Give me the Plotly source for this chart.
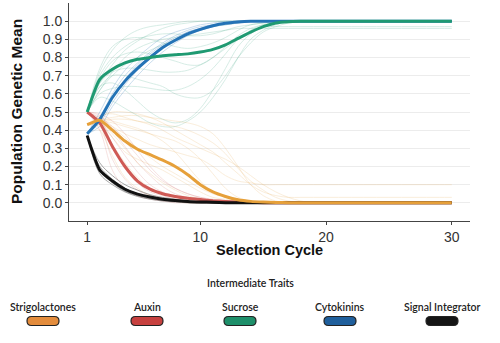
import plotly.graph_objects as go

cycles = list(range(1, 31))

# ---- mean trajectories ----
strigolactones_mean = [0.43, 0.455, 0.40, 0.34, 0.295, 0.265, 0.235, 0.20, 0.155, 0.10,
                       0.06, 0.035, 0.017, 0.008, 0.004, 0.002, 0.001, 0.001, 0.001, 0.001,
                       0.001, 0.001, 0.001, 0.001, 0.001, 0.001, 0.001, 0.001, 0.001, 0.001]
auxin_mean = [0.50, 0.44, 0.31, 0.20, 0.12, 0.075, 0.05, 0.035, 0.025, 0.018,
              0.012, 0.008, 0.004, 0.002, 0.001, 0.0, 0.0, 0.0, 0.0, 0.0,
              0.0, 0.0, 0.0, 0.0, 0.0, 0.0, 0.0, 0.0, 0.0, 0.0]
sucrose_mean = [0.50, 0.68, 0.735, 0.77, 0.79, 0.80, 0.81, 0.815, 0.82, 0.83,
                0.845, 0.87, 0.905, 0.94, 0.97, 0.99, 0.997, 0.999, 1.0, 1.0,
                1.0, 1.0, 1.0, 1.0, 1.0, 1.0, 1.0, 1.0, 1.0, 1.0]
cytokinins_mean = [0.38, 0.46, 0.58, 0.67, 0.74, 0.80, 0.855, 0.895, 0.93, 0.955,
                   0.975, 0.988, 0.995, 0.999, 1.0, 1.0, 1.0, 1.0, 1.0, 1.0,
                   1.0, 1.0, 1.0, 1.0, 1.0, 1.0, 1.0, 1.0, 1.0, 1.0]
integrator_mean = [0.37, 0.18, 0.12, 0.075, 0.048, 0.032, 0.02, 0.013, 0.008, 0.005,
                   0.003, 0.001, 0.0, 0.0, 0.0, 0.0, 0.0, 0.0, 0.0, 0.0,
                   0.0, 0.0, 0.0, 0.0, 0.0, 0.0, 0.0, 0.0, 0.0, 0.0]

# ---- individual replicate trajectories (read approximately) ----
strigolactones_reps = [
    [0.43, 0.45, 0.44, 0.42, 0.40, 0.38, 0.36, 0.34, 0.30, 0.24, 0.16, 0.08, 0.03, 0.01, 0.0,
     0.0, 0.0, 0.0, 0.0, 0.0, 0.0, 0.0, 0.0, 0.0, 0.0, 0.0, 0.0, 0.0, 0.0, 0.0],
    [0.43, 0.42, 0.32, 0.22, 0.14, 0.08, 0.05, 0.03, 0.02, 0.01, 0.0, 0.0, 0.0, 0.0, 0.0,
     0.0, 0.0, 0.0, 0.0, 0.0, 0.0, 0.0, 0.0, 0.0, 0.0, 0.0, 0.0, 0.0, 0.0, 0.0],
    [0.43, 0.46, 0.47, 0.48, 0.48, 0.47, 0.46, 0.45, 0.44, 0.42, 0.38, 0.30, 0.20, 0.10, 0.04,
     0.01, 0.0, 0.0, 0.0, 0.0, 0.0, 0.0, 0.0, 0.0, 0.0, 0.0, 0.0, 0.0, 0.0, 0.0],
    [0.43, 0.44, 0.38, 0.30, 0.22, 0.16, 0.11, 0.07, 0.04, 0.02, 0.01, 0.0, 0.0, 0.0, 0.0,
     0.0, 0.0, 0.0, 0.0, 0.0, 0.0, 0.0, 0.0, 0.0, 0.0, 0.0, 0.0, 0.0, 0.0, 0.0],
    [0.43, 0.40, 0.26, 0.14, 0.08, 0.04, 0.02, 0.01, 0.0, 0.0, 0.0, 0.0, 0.0, 0.0, 0.0,
     0.0, 0.0, 0.0, 0.0, 0.0, 0.0, 0.0, 0.0, 0.0, 0.0, 0.0, 0.0, 0.0, 0.0, 0.0],
    [0.43, 0.46, 0.45, 0.43, 0.41, 0.38, 0.34, 0.28, 0.20, 0.12, 0.06, 0.03, 0.01, 0.0, 0.0,
     0.0, 0.0, 0.0, 0.0, 0.0, 0.0, 0.0, 0.0, 0.0, 0.0, 0.0, 0.0, 0.0, 0.0, 0.0],
    [0.43, 0.45, 0.42, 0.38, 0.35, 0.32, 0.30, 0.28, 0.26, 0.24, 0.20, 0.15, 0.12, 0.11, 0.10,
     0.10, 0.10, 0.10, 0.10, 0.10, 0.10, 0.10, 0.10, 0.10, 0.10, 0.10, 0.10, 0.10, 0.10, 0.10],
    [0.43, 0.47, 0.50, 0.50, 0.49, 0.47, 0.44, 0.40, 0.36, 0.32, 0.28, 0.22, 0.16, 0.10, 0.06,
     0.04, 0.03, 0.03, 0.03, 0.03, 0.03, 0.03, 0.03, 0.03, 0.03, 0.03, 0.03, 0.03, 0.03, 0.03],
    [0.43, 0.44, 0.41, 0.36, 0.30, 0.25, 0.20, 0.16, 0.12, 0.08, 0.05, 0.03, 0.02, 0.01, 0.0,
     0.0, 0.0, 0.0, 0.0, 0.0, 0.0, 0.0, 0.0, 0.0, 0.0, 0.0, 0.0, 0.0, 0.0, 0.0],
    [0.43, 0.48, 0.49, 0.47, 0.45, 0.44, 0.43, 0.42, 0.40, 0.37, 0.33, 0.27, 0.19, 0.12, 0.07,
     0.03, 0.01, 0.0, 0.0, 0.0, 0.0, 0.0, 0.0, 0.0, 0.0, 0.0, 0.0, 0.0, 0.0, 0.0],
    [0.43, 0.45, 0.46, 0.46, 0.45, 0.43, 0.40, 0.36, 0.33, 0.30, 0.27, 0.24, 0.20, 0.15, 0.10,
     0.06, 0.03, 0.01, 0.0, 0.0, 0.0, 0.0, 0.0, 0.0, 0.0, 0.0, 0.0, 0.0, 0.0, 0.0],
    [0.43, 0.43, 0.36, 0.28, 0.24, 0.21, 0.18, 0.14, 0.10, 0.06, 0.03, 0.02, 0.01, 0.0, 0.0,
     0.0, 0.0, 0.0, 0.0, 0.0, 0.0, 0.0, 0.0, 0.0, 0.0, 0.0, 0.0, 0.0, 0.0, 0.0],
]
auxin_reps = [
    [0.50, 0.40, 0.18, 0.08, 0.04, 0.02, 0.01, 0.0, 0.0, 0.0, 0.0, 0.0, 0.0, 0.0, 0.0,
     0.0, 0.0, 0.0, 0.0, 0.0, 0.0, 0.0, 0.0, 0.0, 0.0, 0.0, 0.0, 0.0, 0.0, 0.0],
    [0.50, 0.48, 0.40, 0.31, 0.22, 0.15, 0.09, 0.05, 0.03, 0.02, 0.01, 0.0, 0.0, 0.0, 0.0,
     0.0, 0.0, 0.0, 0.0, 0.0, 0.0, 0.0, 0.0, 0.0, 0.0, 0.0, 0.0, 0.0, 0.0, 0.0],
    [0.50, 0.46, 0.32, 0.19, 0.11, 0.06, 0.04, 0.02, 0.01, 0.0, 0.0, 0.0, 0.0, 0.0, 0.0,
     0.0, 0.0, 0.0, 0.0, 0.0, 0.0, 0.0, 0.0, 0.0, 0.0, 0.0, 0.0, 0.0, 0.0, 0.0],
    [0.50, 0.43, 0.24, 0.13, 0.07, 0.04, 0.025, 0.015, 0.01, 0.005, 0.0, 0.0, 0.0, 0.0, 0.0,
     0.0, 0.0, 0.0, 0.0, 0.0, 0.0, 0.0, 0.0, 0.0, 0.0, 0.0, 0.0, 0.0, 0.0, 0.0],
    [0.50, 0.49, 0.45, 0.38, 0.29, 0.20, 0.13, 0.08, 0.05, 0.03, 0.02, 0.01, 0.0, 0.0, 0.0,
     0.0, 0.0, 0.0, 0.0, 0.0, 0.0, 0.0, 0.0, 0.0, 0.0, 0.0, 0.0, 0.0, 0.0, 0.0],
    [0.50, 0.45, 0.36, 0.26, 0.17, 0.10, 0.06, 0.04, 0.02, 0.01, 0.0, 0.0, 0.0, 0.0, 0.0,
     0.0, 0.0, 0.0, 0.0, 0.0, 0.0, 0.0, 0.0, 0.0, 0.0, 0.0, 0.0, 0.0, 0.0, 0.0],
    [0.50, 0.47, 0.42, 0.34, 0.26, 0.18, 0.12, 0.08, 0.05, 0.03, 0.015, 0.005, 0.0, 0.0, 0.0,
     0.0, 0.0, 0.0, 0.0, 0.0, 0.0, 0.0, 0.0, 0.0, 0.0, 0.0, 0.0, 0.0, 0.0, 0.0],
]
sucrose_reps = [
    [0.50, 0.72, 0.84, 0.91, 0.95, 0.97, 0.98, 0.99, 1.0, 1.0, 1.0, 1.0, 1.0, 1.0, 1.0,
     1.0, 1.0, 1.0, 1.0, 1.0, 1.0, 1.0, 1.0, 1.0, 1.0, 1.0, 1.0, 1.0, 1.0, 1.0],
    [0.50, 0.66, 0.76, 0.84, 0.89, 0.93, 0.96, 0.98, 0.99, 1.0, 1.0, 1.0, 1.0, 1.0, 1.0,
     1.0, 1.0, 1.0, 1.0, 1.0, 1.0, 1.0, 1.0, 1.0, 1.0, 1.0, 1.0, 1.0, 1.0, 1.0],
    [0.50, 0.62, 0.70, 0.76, 0.80, 0.84, 0.87, 0.90, 0.93, 0.95, 0.97, 0.98, 0.99, 1.0, 1.0,
     1.0, 1.0, 1.0, 1.0, 1.0, 1.0, 1.0, 1.0, 1.0, 1.0, 1.0, 1.0, 1.0, 1.0, 1.0],
    [0.50, 0.60, 0.63, 0.64, 0.64, 0.63, 0.62, 0.62, 0.64, 0.68, 0.74, 0.82, 0.90, 0.95, 0.98,
     0.99, 1.0, 1.0, 1.0, 1.0, 1.0, 1.0, 1.0, 1.0, 1.0, 1.0, 1.0, 1.0, 1.0, 1.0],
    [0.50, 0.68, 0.78, 0.82, 0.83, 0.82, 0.80, 0.78, 0.76, 0.76, 0.80, 0.86, 0.92, 0.96, 0.98,
     0.99, 1.0, 1.0, 1.0, 1.0, 1.0, 1.0, 1.0, 1.0, 1.0, 1.0, 1.0, 1.0, 1.0, 1.0],
    [0.50, 0.64, 0.66, 0.62, 0.56, 0.50, 0.46, 0.44, 0.46, 0.52, 0.62, 0.74, 0.86, 0.93, 0.97,
     0.99, 1.0, 1.0, 1.0, 1.0, 1.0, 1.0, 1.0, 1.0, 1.0, 1.0, 1.0, 1.0, 1.0, 1.0],
    [0.50, 0.70, 0.80, 0.86, 0.90, 0.92, 0.93, 0.93, 0.92, 0.92, 0.93, 0.95, 0.97, 0.98, 0.99,
     1.0, 1.0, 1.0, 1.0, 1.0, 1.0, 1.0, 1.0, 1.0, 1.0, 1.0, 1.0, 1.0, 1.0, 1.0],
    [0.50, 0.62, 0.72, 0.80, 0.85, 0.88, 0.90, 0.91, 0.92, 0.93, 0.94, 0.95, 0.96, 0.96, 0.96,
     0.96, 0.96, 0.96, 0.96, 0.96, 0.96, 0.96, 0.96, 0.96, 0.96, 0.96, 0.96, 0.96, 0.96, 0.96],
    [0.50, 0.58, 0.56, 0.52, 0.48, 0.44, 0.42, 0.42, 0.45, 0.50, 0.58, 0.68, 0.80, 0.90, 0.95,
     0.98, 1.0, 1.0, 1.0, 1.0, 1.0, 1.0, 1.0, 1.0, 1.0, 1.0, 1.0, 1.0, 1.0, 1.0],
    [0.50, 0.66, 0.72, 0.74, 0.74, 0.73, 0.72, 0.72, 0.73, 0.76, 0.80, 0.85, 0.90, 0.94, 0.97,
     0.97, 0.97, 0.97, 0.97, 0.97, 0.97, 0.97, 0.97, 0.97, 0.97, 0.97, 0.97, 0.97, 0.97, 0.97],
    [0.50, 0.74, 0.86, 0.90, 0.91, 0.90, 0.88, 0.86, 0.85, 0.86, 0.88, 0.91, 0.95, 0.98, 0.99,
     1.0, 1.0, 1.0, 1.0, 1.0, 1.0, 1.0, 1.0, 1.0, 1.0, 1.0, 1.0, 1.0, 1.0, 1.0],
    [0.50, 0.64, 0.70, 0.70, 0.68, 0.66, 0.64, 0.60, 0.58, 0.58, 0.62, 0.70, 0.80, 0.88, 0.94,
     0.97, 0.99, 1.0, 1.0, 1.0, 1.0, 1.0, 1.0, 1.0, 1.0, 1.0, 1.0, 1.0, 1.0, 1.0],
]
cytokinins_reps = [
    [0.38, 0.50, 0.63, 0.73, 0.80, 0.86, 0.91, 0.94, 0.96, 0.98, 0.99, 1.0, 1.0, 1.0, 1.0,
     1.0, 1.0, 1.0, 1.0, 1.0, 1.0, 1.0, 1.0, 1.0, 1.0, 1.0, 1.0, 1.0, 1.0, 1.0],
    [0.38, 0.42, 0.53, 0.62, 0.70, 0.77, 0.83, 0.88, 0.92, 0.95, 0.97, 0.98, 0.99, 1.0, 1.0,
     1.0, 1.0, 1.0, 1.0, 1.0, 1.0, 1.0, 1.0, 1.0, 1.0, 1.0, 1.0, 1.0, 1.0, 1.0],
    [0.38, 0.47, 0.60, 0.70, 0.77, 0.83, 0.88, 0.92, 0.95, 0.97, 0.98, 0.99, 1.0, 1.0, 1.0,
     1.0, 1.0, 1.0, 1.0, 1.0, 1.0, 1.0, 1.0, 1.0, 1.0, 1.0, 1.0, 1.0, 1.0, 1.0],
    [0.38, 0.44, 0.55, 0.65, 0.73, 0.80, 0.86, 0.90, 0.94, 0.96, 0.98, 0.99, 1.0, 1.0, 1.0,
     1.0, 1.0, 1.0, 1.0, 1.0, 1.0, 1.0, 1.0, 1.0, 1.0, 1.0, 1.0, 1.0, 1.0, 1.0],
    [0.38, 0.45, 0.58, 0.68, 0.76, 0.82, 0.87, 0.91, 0.94, 0.96, 0.975, 0.99, 1.0, 1.0, 1.0,
     1.0, 1.0, 1.0, 1.0, 1.0, 1.0, 1.0, 1.0, 1.0, 1.0, 1.0, 1.0, 1.0, 1.0, 1.0],
]
integrator_reps = [
    [0.37, 0.20, 0.13, 0.08, 0.05, 0.03, 0.02, 0.01, 0.005, 0.0, 0.0, 0.0, 0.0, 0.0, 0.0,
     0.0, 0.0, 0.0, 0.0, 0.0, 0.0, 0.0, 0.0, 0.0, 0.0, 0.0, 0.0, 0.0, 0.0, 0.0],
    [0.37, 0.16, 0.10, 0.06, 0.035, 0.02, 0.01, 0.005, 0.0, 0.0, 0.0, 0.0, 0.0, 0.0, 0.0,
     0.0, 0.0, 0.0, 0.0, 0.0, 0.0, 0.0, 0.0, 0.0, 0.0, 0.0, 0.0, 0.0, 0.0, 0.0],
    [0.37, 0.22, 0.15, 0.10, 0.07, 0.045, 0.03, 0.02, 0.01, 0.005, 0.0, 0.0, 0.0, 0.0, 0.0,
     0.0, 0.0, 0.0, 0.0, 0.0, 0.0, 0.0, 0.0, 0.0, 0.0, 0.0, 0.0, 0.0, 0.0, 0.0],
    [0.37, 0.18, 0.11, 0.065, 0.04, 0.025, 0.015, 0.01, 0.005, 0.0, 0.0, 0.0, 0.0, 0.0, 0.0,
     0.0, 0.0, 0.0, 0.0, 0.0, 0.0, 0.0, 0.0, 0.0, 0.0, 0.0, 0.0, 0.0, 0.0, 0.0],
]

trait_names = ["Strigolactones", "Auxin", "Sucrose", "Cytokinins", "Signal Integrator"]
line_colors = ["#E6A03A", "#CF5A55", "#1F9A72", "#2473B6", "#111111"]
swatch_colors = ["#E38C3C", "#C7413F", "#1E8F6A", "#1F5F9C", "#151515"]
rep_opacity = [0.22, 0.22, 0.22, 0.3, 0.45]
means = [strigolactones_mean, auxin_mean, sucrose_mean, cytokinins_mean, integrator_mean]
reps = [strigolactones_reps, auxin_reps, sucrose_reps, cytokinins_reps, integrator_reps]
y_ticks = [0.0, 0.1, 0.2, 0.3, 0.4, 0.5, 0.6, 0.7, 0.8, 0.9, 1.0]
x_ticks = [1, 10, 20, 30]

fig = go.Figure()

# thin replicate lines
for name, col, rs, op in zip(trait_names, line_colors, reps, rep_opacity):
    for r in rs:
        fig.add_trace(go.Scatter(x=cycles, y=r, mode="lines", line=dict(color=col, width=0.8, shape="spline"),
                                 opacity=op, showlegend=False, hoverinfo="skip"))

# thick mean lines (draw order)
order = [1, 4, 3, 2, 0]
for i in order:
    fig.add_trace(go.Scatter(x=cycles, y=means[i], mode="lines", name=trait_names[i],
                             line=dict(color=line_colors[i], width=3, shape="spline", smoothing=0.6),
                             showlegend=False))

W, H = 500, 343
ml, mr, mt, mb = 69, 30, 3, 122
pw, ph = W - ml - mr, H - mt - mb


def px2paper(px, py):
    return (px - ml) / pw, (H - mb - py) / ph


annotations = []
shapes = []

# axis titles
tx, ty = px2paper(16, 112)
annotations.append(dict(text="<b>Population Genetic Mean</b>", x=tx, y=ty, xref="paper", yref="paper",
                        xanchor="center", yanchor="middle",
                        textangle=-90, showarrow=False, font=dict(family="Liberation Sans", size=15.5, color="#111")))
tx, ty = px2paper(269, 250)
annotations.append(dict(text="<b>Selection Cycle</b>", x=tx, y=ty, xref="paper", yref="paper",
                        xanchor="center", yanchor="middle",
                        showarrow=False, font=dict(family="Liberation Sans", size=14.5, color="#111")))

# legend
tx, ty = px2paper(250, 283)
annotations.append(dict(text="Intermediate Traits", x=tx, y=ty, xref="paper", yref="paper", showarrow=False,
                        xanchor="center", yanchor="middle",
                        font=dict(family="Lato", size=10.5, color="#222", weight=600)))
leg_x = [43, 147, 240, 340, 442]
for name, sc, cx in zip(trait_names, swatch_colors, leg_x):
    lx, ly = px2paper(cx, 307)
    annotations.append(dict(text=name, x=lx, y=ly, xref="paper", yref="paper", showarrow=False,
                            xanchor="center", yanchor="middle",
                            font=dict(family="Lato", size=10.5, color="#222", weight=600)))
    x0, y0 = px2paper(cx - 16, 325.5)
    x1, y1 = px2paper(cx + 16, 316.5)
    yc = (y0 + y1) / 2
    rx = 4.5 / pw
    path = (f"M {x0+rx},{y0} L {x1-rx},{y0} Q {x1},{y0} {x1},{yc} Q {x1},{y1} {x1-rx},{y1} "
            f"L {x0+rx},{y1} Q {x0},{y1} {x0},{yc} Q {x0},{y0} {x0+rx},{y0} Z")
    shapes.append(dict(type="path", path=path, xref="paper", yref="paper", fillcolor=sc,
                       line=dict(color="#222", width=1.2)))

fig.update_layout(
    width=W, height=H,
    margin=dict(l=ml, r=mr, t=mt, b=mb),
    paper_bgcolor="white", plot_bgcolor="white",
    font=dict(family="Liberation Sans", color="#3a3a3a"),
    annotations=annotations, shapes=shapes,
    xaxis=dict(range=[-0.45, 31.45], tickvals=x_ticks, ticktext=[str(v) for v in x_ticks],
               showgrid=False, zeroline=False, showline=True, linecolor="#444", linewidth=1,
               ticks="outside", ticklen=3, tickcolor="#444", tickfont=dict(size=14, color="#333")),
    yaxis=dict(range=[-0.1, 1.1], tickvals=y_ticks, ticktext=[f"{v:.1f}" for v in y_ticks],
               showgrid=True, gridcolor="#ececec", gridwidth=1, zeroline=False, showline=True,
               linecolor="#444", linewidth=1, ticks="outside", ticklen=3, tickcolor="#444",
               tickfont=dict(size=14, color="#333")),
)

fig.write_html("out.html")
